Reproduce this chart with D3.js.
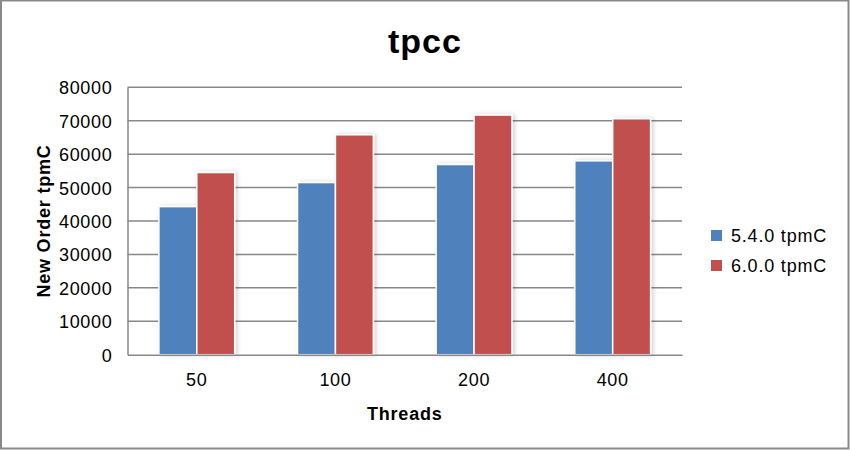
<!DOCTYPE html>
<html lang="en">
	<head>
		<meta charset="utf-8">
		<title>D3: tpcc</title>
		<script type="text/javascript" src="https://d3js.org/d3.v7.min.js"></script>
		<style type="text/css">
			body { margin: 0; background: #fff; }
			text { font-family: "Liberation Sans", Arial, Helvetica, sans-serif; fill: #000; }
			.title { font-size: 34px; font-weight: bold; letter-spacing: 1px; }
			.axis-title { font-size: 18px; font-weight: bold; letter-spacing: 0.8px; }
			.axis text { font-size: 18px; letter-spacing: 0.7px; }
			.legend text { font-size: 18px; letter-spacing: 0.8px; }
			.grid line { stroke: #888; stroke-width: 1.5; }
		</style>
	</head>
	<body>
		<div id="chart"></div>
		<script type="text/javascript">
			//Data
			const threads = ["50", "100", "200", "400"];
			const seriesNames = ["5.4.0 tpmC", "6.0.0 tpmC"];
			const v540 = [44300, 51500, 56900, 58000];
			const v600 = [54500, 65800, 71700, 70600];
			const yTicks = [0, 10000, 20000, 30000, 40000, 50000, 60000, 70000, 80000];
			const colors = ["#4F81BD", "#C0504D"];

			const data = threads.map((t, i) => ({ t: t, vals: [v540[i], v600[i]] }));

			//Size
			const W = 850, H = 452;
			const plot = { left: 127.5, right: 682, top: 87.3, bottom: 354.7 };

			const svg = d3.select("#chart")
			              .append("svg")
			               .attr("width", W)
			               .attr("height", H);

			//Shadow for bars
			const defs = svg.append("defs");
			const f = defs.append("filter")
			    .attr("id", "shadow")
			    .attr("x", "-20%").attr("y", "-20%")
			    .attr("width", "150%").attr("height", "140%");
			f.append("feDropShadow")
			    .attr("dx", 2).attr("dy", 0)
			    .attr("stdDeviation", 2)
			    .attr("flood-color", "#000")
			    .attr("flood-opacity", 0.18);

			//Outer frame
			svg.append("rect")
			   .attr("x", 1).attr("y", 0.5)
			   .attr("width", 847.5).attr("height", 448)
			   .attr("fill", "#fff")
			   .attr("stroke", "#888")
			   .attr("stroke-width", 2);

			//Scales
			const x0 = d3.scaleBand()
			             .domain(threads)
			             .range([plot.left, plot.right])
			             .paddingInner(0.453)
			             .paddingOuter(0.2265);
			const x1 = d3.scaleBand()
			             .domain([0, 1])
			             .range([0, x0.bandwidth()]);
			const y = d3.scaleLinear()
			            .domain([0, 80000])
			            .range([plot.bottom, plot.top]);

			//Gridlines
			svg.append("g")
			   .attr("class", "grid")
			   .selectAll("line")
			   .data(yTicks.filter(d => d > 0))
			   .join("line")
			    .attr("x1", plot.left)
			    .attr("x2", plot.right)
			    .attr("y1", d => y(d))
			    .attr("y2", d => y(d));

			//Bars
			const groups = svg.append("g")
			   .selectAll("g")
			   .data(data)
			   .join("g")
			    .attr("transform", d => "translate(" + x0(d.t) + ",0)");

			groups.selectAll("rect")
			   .data(d => d.vals.map((v, k) => ({ k: k, v: v })))
			   .join("rect")
			    .attr("x", d => x1(d.k))
			    .attr("y", d => y(d.v))
			    .attr("width", x1.bandwidth())
			    .attr("height", d => y(0) - y(d.v))
			    .attr("fill", d => colors[d.k])
			    .attr("stroke", "#fff")
			    .attr("stroke-width", 1.5)
			    .attr("filter", "url(#shadow)");

			//Axes
			const yAxis = d3.axisLeft(y).tickValues(yTicks).tickSize(0).tickPadding(15).tickFormat(d3.format("d"));
			const gy = svg.append("g")
			   .attr("class", "axis")
			   .attr("transform", "translate(" + plot.left + ",0)")
			   .call(yAxis);
			gy.select(".domain").attr("stroke", "#888").attr("stroke-width", 1.5);
			gy.selectAll(".tick text").attr("dy", "0.36em");

			const xAxis = d3.axisBottom(x0).tickSize(0).tickPadding(19);
			const gx = svg.append("g")
			   .attr("class", "axis")
			   .attr("transform", "translate(0," + plot.bottom + ")")
			   .call(xAxis);
			gx.select(".domain").attr("stroke", "#888").attr("stroke-width", 1.5);

			//Titles
			svg.append("text")
			   .attr("class", "title")
			   .attr("x", 425)
			   .attr("y", 53)
			   .attr("text-anchor", "middle")
			   .text("tpcc");

			svg.append("text")
			   .attr("class", "axis-title")
			   .attr("x", (plot.left + plot.right) / 2)
			   .attr("y", 420)
			   .attr("text-anchor", "middle")
			   .text("Threads");

			svg.append("text")
			   .attr("class", "axis-title")
			   .attr("transform", "translate(50," + ((plot.top + plot.bottom) / 2) + ") rotate(-90)")
			   .attr("text-anchor", "middle")
			   .text("New Order tpmC");

			//Legend
			const legend = svg.append("g")
			   .attr("class", "legend")
			   .selectAll("g")
			   .data(seriesNames)
			   .join("g")
			    .attr("transform", (d, i) => "translate(711," + (230 + i * 30) + ")");
			legend.append("rect")
			   .attr("width", 11).attr("height", 11)
			   .attr("fill", (d, i) => colors[i]);
			legend.append("text")
			   .attr("x", 20)
			   .attr("y", 12)
			   .text(d => d);
		</script>
	</body>
</html>
